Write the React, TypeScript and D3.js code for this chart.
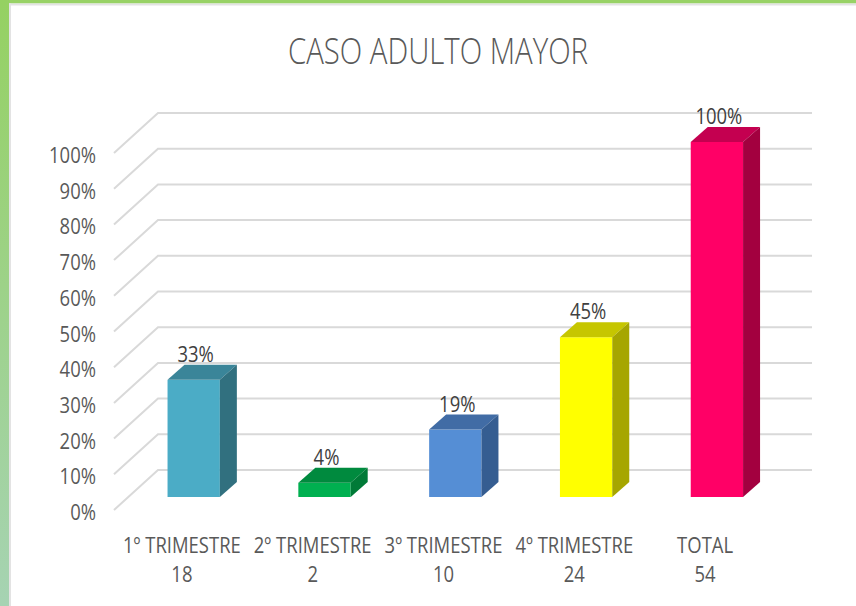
import React from 'react';
import * as d3 from 'd3';

const categories = ['1º TRIMESTRE', '2º TRIMESTRE', '3º TRIMESTRE', '4º TRIMESTRE', 'TOTAL'];
const counts = [18, 2, 10, 24, 54];
const percents = [0.33, 0.04, 0.19, 0.45, 1.0];
const ticks = [0, 0.1, 0.2, 0.3, 0.4, 0.5, 0.6, 0.7, 0.8, 0.9, 1.0];

const faceColors = ['#4bacc6', '#00b050', '#558ed5', '#ffff00', '#ff0066'];
const topColors = ['#3a8599', '#008a3e', '#416ca5', '#c6c600', '#c40050'];
const sideColors = ['#31707f', '#007a37', '#355d91', '#a6a600', '#a3003f'];

const W = 856;
const H = 606;
const FONT = "'Open Sans', 'Liberation Sans', sans-serif";
const SX = 0.84; // the picture is a bit squeezed horizontally

// 3d box geometry
const floorLeft = 114;
const floorRight = 768;
const depthX = 44;
const depthY = 40;
const barDepthPos = 0.325; // where bar fronts sit, from the front of the floor
const barDX = 17;
const barDY = 15;

const App = () => {
  const x = d3.scaleBand<string>().domain(categories).range([floorLeft, floorRight]);
  const yFront = d3.scaleLinear().domain([0, 1]).range([510, 153]);
  const yBack = d3.scaleLinear().domain([0, 1]).range([470, 113]);
  const yBar = d3.scaleLinear().domain([0, 1]).range([497, 142]);
  const barW = x.bandwidth() * 0.4;

  const sText = (tx: number, ty: number, content: string, opts: any = {}) => (
    <text
      transform={`translate(${tx},${ty}) scale(${SX},1)`}
      textAnchor={opts.anchor || 'middle'}
      fontSize={opts.size || 22}
      fill={opts.fill || '#595959'}
      fontFamily={FONT}
    >
      {content}
    </text>
  );

  return (
    <div style={{ position: 'fixed', left: 0, top: 0 }}>
      <svg width={W} height={H} style={{ display: 'block', background: '#fff' }}>
        <defs>
          <linearGradient id="leftBorder" x1="0" y1="0" x2="0" y2="1">
            <stop offset="0%" stopColor="#95d162" />
            <stop offset="100%" stopColor="#a6d3b3" />
          </linearGradient>
        </defs>
        {/* frame */}
        <rect x={0} y={0} width={W} height={3.5} fill="#98d266" />
        <rect x={0} y={0} width={9} height={H} fill="url(#leftBorder)" />
        <rect x={9} y={3.5} width={W - 9} height={2} fill="#e3e3e3" />
        <rect x={9} y={3.5} width={2} height={H} fill="#e3e3e3" />

        {/* title */}
        <text
          x={438}
          y={64}
          textAnchor="middle"
          fontSize={37}
          fontWeight={300}
          fill="#595959"
          fontFamily={FONT}
          textLength={300}
          lengthAdjust="spacingAndGlyphs"
        >
          CASO ADULTO MAYOR
        </text>

        {/* gridlines: side wall + back wall */}
        {ticks.map(t => (
          <polyline
            key={t}
            points={`${floorLeft},${yFront(t)} ${floorLeft + depthX},${yBack(t)} ${floorRight + depthX},${yBack(t)}`}
            fill="none"
            stroke="#d9d9d9"
            strokeWidth={2}
          />
        ))}

        {/* y axis labels */}
        {ticks.map(t => (
          <g key={'l' + t}>{sText(96, yFront(t) + 10, `${Math.round(t * 100)}%`, { anchor: 'end' })}</g>
        ))}

        {/* bars */}
        {categories.map((c, i) => {
          const x0 = (x(c) as number) + x.bandwidth() / 2 + barDepthPos * depthX - barW / 2;
          const x1 = x0 + barW;
          const yT = yBar(percents[i]);
          const yB = yBar(0);
          return (
            <g key={c}>
              <rect x={x0} y={yT} width={barW} height={yB - yT} fill={faceColors[i]} />
              <polygon
                points={`${x0},${yT} ${x1},${yT} ${x1 + barDX},${yT - barDY} ${x0 + barDX},${yT - barDY}`}
                fill={topColors[i]}
              />
              <polygon
                points={`${x1},${yT} ${x1 + barDX},${yT - barDY} ${x1 + barDX},${yB - barDY} ${x1},${yB}`}
                fill={sideColors[i]}
              />
              {sText(x0 + barW / 2 + 2, yT - barDY - 3, `${Math.round(percents[i] * 100)}%`, { fill: '#404040' })}
            </g>
          );
        })}

        {/* category labels */}
        {categories.map((c, i) => {
          const cx = (x(c) as number) + x.bandwidth() / 2 + 2.5;
          return (
            <g key={'c' + c}>
              {sText(cx, 553, c)}
              {sText(cx, 582, String(counts[i]))}
            </g>
          );
        })}
      </svg>
    </div>
  );
};

export default App;
